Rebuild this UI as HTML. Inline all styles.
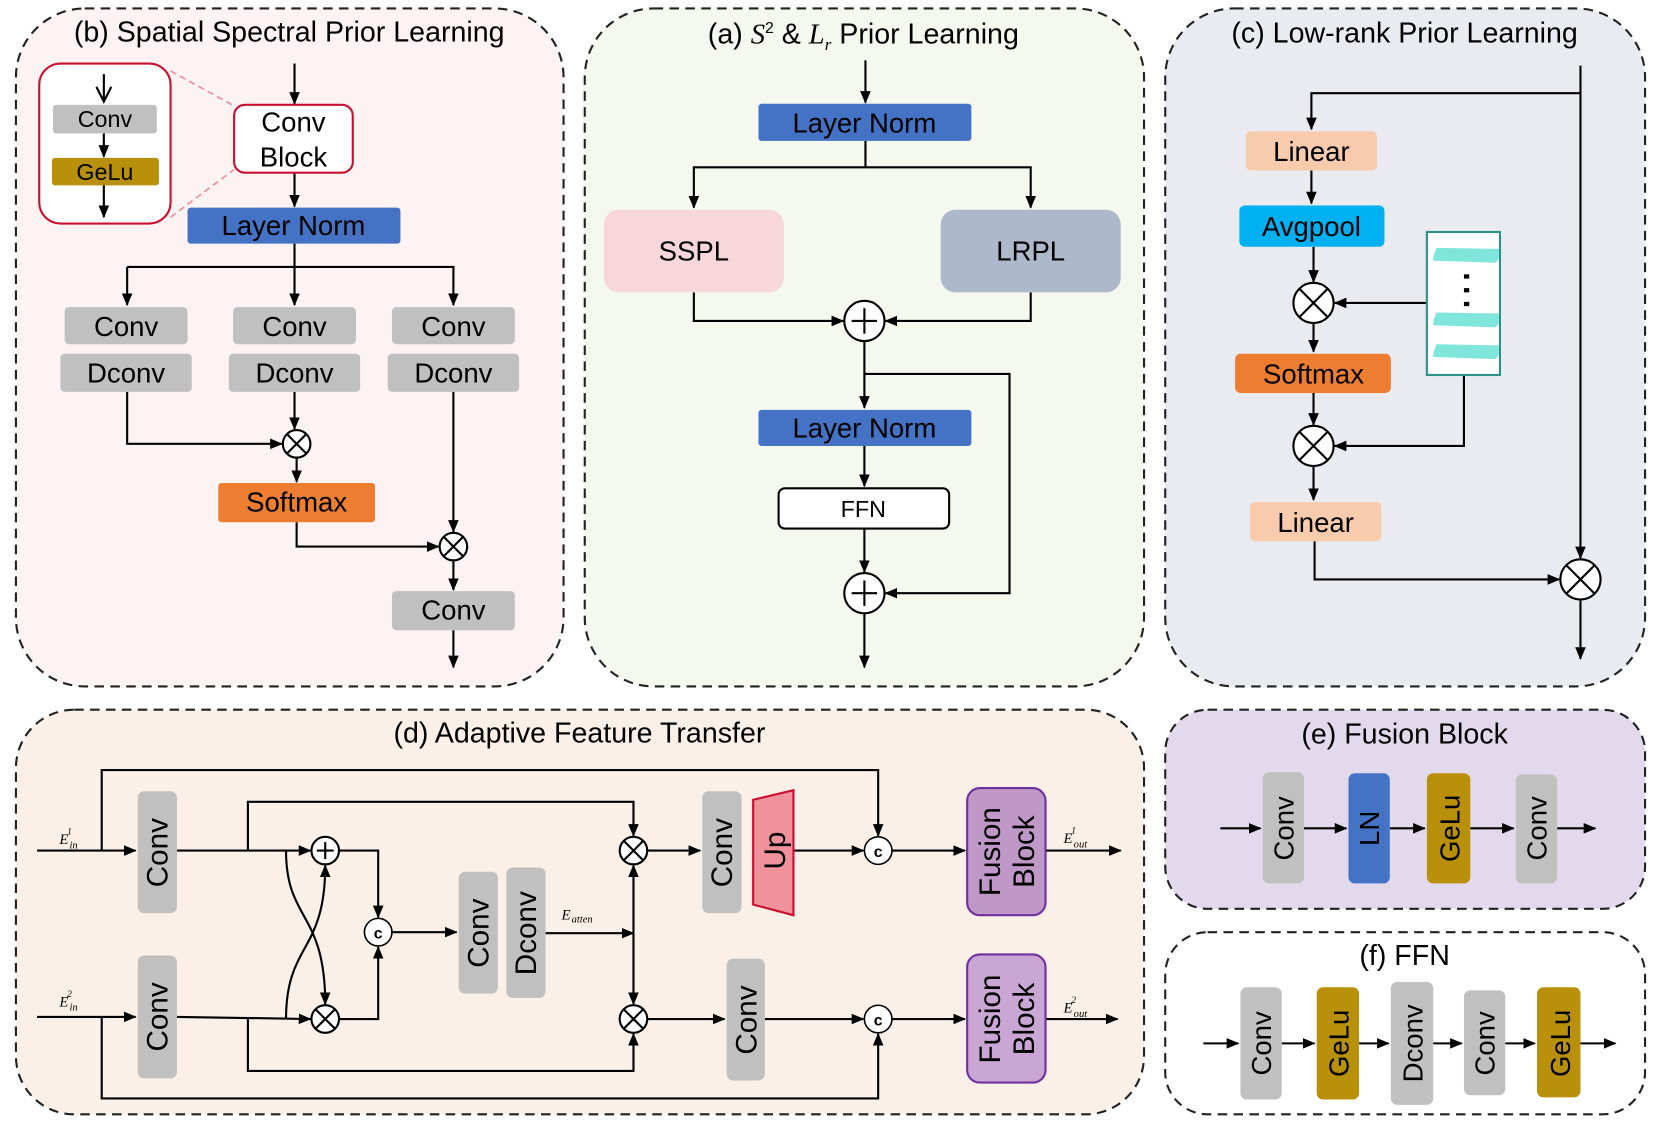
<!DOCTYPE html>
<html><head><meta charset="utf-8"><style>
html,body{margin:0;padding:0;background:#fff}
svg{display:block}
text{font-family:"Liberation Sans",sans-serif;fill:#000}
</style></head><body>
<svg width="1661" height="1126" viewBox="0 0 1568 1063" xmlns="http://www.w3.org/2000/svg">
<defs>
<marker id="a" viewBox="0 0 12 12" refX="11" refY="6" markerWidth="12" markerHeight="12" markerUnits="userSpaceOnUse" orient="auto"><path d="M0,1 L12,6 L0,11 z" fill="#000"/></marker>
</defs>
<g stroke="#222" stroke-width="2" stroke-dasharray="9,6">
<rect x="15" y="8" width="517" height="640" rx="65" fill="#fdf3f3"/>
<rect x="552" y="8" width="528" height="640" rx="65" fill="#f5f8ef"/>
<rect x="1100" y="8" width="453" height="640" rx="65" fill="#e9ebf0"/>
<rect x="15" y="670" width="1065" height="382" rx="55" fill="#fbf0e7"/>
<rect x="1100" y="670" width="453" height="188" rx="40" fill="#e3d9ec"/>
<rect x="1100" y="880" width="453" height="172" rx="40" fill="#fff"/>
</g>
<g font-size="27" text-anchor="middle">
<text x="273" y="39">(b) Spatial Spectral Prior Learning</text>
<text x="815" y="41">(a) <tspan font-family="Liberation Serif" font-style="italic">S</tspan><tspan font-size="15" dy="-10">2</tspan><tspan dy="10"> &amp; </tspan><tspan font-family="Liberation Serif" font-style="italic">L</tspan><tspan font-family="Liberation Serif" font-style="italic" font-size="16" dy="6">r</tspan><tspan dy="-6">  Prior Learning</tspan></text>
<text x="1326" y="40">(c) Low-rank Prior Learning</text>
<text x="547" y="701">(d) Adaptive Feature Transfer</text>
<text x="1326" y="702">(e) Fusion Block</text>
<text x="1326" y="911">(f) FFN</text>
</g>
<!-- b inset -->
<path d="M161,67 L221,100 M161,205 L221,160" stroke="#f08a9a" stroke-width="1.5" stroke-dasharray="6,4"/>
<rect x="37" y="60" width="124" height="151" rx="20" fill="#fff" stroke="#c8102e" stroke-width="2"/>
<rect x="50" y="99" width="98" height="27" rx="3" fill="#c0c0c0"/>
<rect x="49" y="149" width="101" height="26" rx="3" fill="#b8900a"/>
<path d="M91,82 L98,96 L105,82 M98,70 V96" stroke="#000" stroke-width="2" fill="none"/>
<g stroke="#000" stroke-width="2" fill="none" marker-end="url(#a)">
<path d="M98,126 V148"/><path d="M98,175 V205"/>
<!-- b -->
<path d="M278,60 V98"/><path d="M278,163 V195"/>
<path d="M278,230 V288"/><path d="M120,252 H428 V288"/><path d="M120,252 V288"/>
<path d="M120,370 V419 H266"/><path d="M278,370 V405"/>
<path d="M280,432 V455"/><path d="M280,493 V516 H414"/><path d="M428,370 V502"/>
<path d="M428,529 V557"/><path d="M428,595 V630"/>
<!-- a -->
<path d="M817,57 V97"/><path d="M817,133 V158 H655 V196"/><path d="M817,158 H973 V196"/>
<path d="M655,276 V303 H796"/><path d="M973,276 V303 H836"/>
<path d="M816,322 V385"/><path d="M816,353 H953 V560 H836"/>
<path d="M816,421 V459"/><path d="M816,499 V540"/><path d="M816,579 V630"/>
<!-- c -->
<path d="M1492,62 V527"/><path d="M1492,88 H1238 V122"/>
<path d="M1238,161 V192"/><path d="M1240,233 V266"/><path d="M1240,305 V332"/>
<path d="M1240,371 V401"/><path d="M1240,440 V472"/><path d="M1241,511 V547 H1472"/>
<path d="M1347,286 H1260"/><path d="M1382,354 V421 H1260"/><path d="M1492,566 V622"/>
<!-- d -->
<path d="M35,803 H128"/><path d="M96,803 V727 H829 V789"/>
<path d="M167,803 H293"/><path d="M234,803 V757 H598 V789"/>
<path d="M320,803 H357 V866"/>
<path d="M35,960 H128"/><path d="M96,960 V1037 H829 V976"/>
<path d="M167,960 L293,962"/><path d="M234,962 V1011 H598 V976"/>
<path d="M320,962 H357 V894"/>
<path d="M270,803 C270,870 307,860 307,948"/>
<path d="M270,962 C270,890 307,900 307,817"/>
<path d="M370,880 H431"/>
<path d="M515,881 H598"/><path d="M598,881 V817"/><path d="M598,881 V948"/>
<path d="M611,803 H661"/><path d="M749,803 H815"/><path d="M842,803 H911"/><path d="M987,803 H1058"/>
<path d="M611,962 H684"/><path d="M722,962 H815"/><path d="M842,962 H911"/><path d="M987,962 H1055"/>
<!-- e -->
<path d="M1152,782 H1190"/><path d="M1231,782 H1271"/><path d="M1312,782 H1345"/><path d="M1388,782 H1429"/><path d="M1470,782 H1506"/>
<!-- f -->
<path d="M1136,985 H1169"/><path d="M1210,985 H1241"/><path d="M1283,985 H1311"/><path d="M1353,985 H1380"/><path d="M1421,985 H1449"/><path d="M1492,985 H1525"/>
</g>
<rect x="221" y="99" width="112" height="64" rx="10" fill="#fff" stroke="#c8102e" stroke-width="2"/>
<rect x="177" y="196" width="201" height="34" rx="3" fill="#4472c4"/>
<g fill="#c0c0c0">
<rect x="61" y="290" width="116" height="35" rx="4"/><rect x="220" y="290" width="116" height="35" rx="4"/><rect x="370" y="290" width="116" height="35" rx="4"/>
<rect x="57" y="334" width="124" height="36" rx="4"/><rect x="216" y="334" width="124" height="36" rx="4"/><rect x="366" y="334" width="124" height="36" rx="4"/>
<rect x="370" y="558" width="116" height="37" rx="4"/>
</g>
<rect x="206" y="456" width="148" height="37" rx="3" fill="#ed7d31"/>
<!-- a boxes -->
<rect x="716" y="98" width="201" height="35" rx="3" fill="#4472c4"/>
<rect x="570" y="198" width="170" height="78" rx="14" fill="#f8d7dc"/>
<rect x="888" y="198" width="170" height="78" rx="14" fill="#adb9ca"/>
<rect x="716" y="387" width="201" height="34" rx="3" fill="#4472c4"/>
<rect x="735" y="461" width="161" height="38" rx="6" fill="#fff" stroke="#000" stroke-width="2"/>
<!-- c boxes -->
<rect x="1176" y="124" width="124" height="37" rx="5" fill="#f8cbad"/>
<rect x="1170" y="194" width="137" height="39" rx="5" fill="#00b0f0"/>
<rect x="1166" y="334" width="147" height="37" rx="5" fill="#ed7d31"/>
<rect x="1180" y="474" width="124" height="37" rx="5" fill="#f8cbad"/>
<rect x="1347" y="219" width="69" height="135" fill="#fff" stroke="#2a9288" stroke-width="2"/>
<g fill="#80e6dc"><path d="M1353,243 L1356,234 L1415,235 L1415,244 L1412,248 L1353,246 z"/><path d="M1353,304 L1356,295 L1415,296 L1415,305 L1412,309 L1353,307 z"/><path d="M1353,334 L1356,325 L1415,326 L1415,335 L1412,339 L1353,337 z"/></g>
<g fill="#000"><rect x="1382" y="259" width="5" height="4"/><rect x="1382" y="272" width="5" height="4"/><rect x="1382" y="285" width="5" height="4"/></g>
<!-- d boxes -->
<g fill="#c0c0c0">
<rect x="130" y="747" width="37" height="115" rx="6"/><rect x="130" y="902" width="37" height="116" rx="6"/>
<rect x="433" y="823" width="37" height="115" rx="6"/><rect x="478" y="819" width="37" height="123" rx="6"/>
<rect x="663" y="747" width="37" height="115" rx="6"/><rect x="686" y="905" width="36" height="115" rx="6"/>
</g>
<polygon points="711,755 749,746 749,864 711,854" fill="#f0929c" stroke="#c8102e" stroke-width="2"/>
<rect x="913" y="744" width="74" height="120" rx="12" fill="#bf98c8" stroke="#7030a0" stroke-width="2"/>
<rect x="913" y="901" width="74" height="121" rx="12" fill="#c9a6d3" stroke="#7030a0" stroke-width="2"/>
<!-- e/f boxes -->
<rect x="1192" y="729" width="39" height="105" rx="6" fill="#c0c0c0"/>
<rect x="1273" y="730" width="39" height="104" rx="6" fill="#4472c4"/>
<rect x="1347" y="730" width="41" height="104" rx="6" fill="#b8900a"/>
<rect x="1431" y="731" width="39" height="103" rx="6" fill="#c0c0c0"/>
<rect x="1171" y="932" width="39" height="106" rx="6" fill="#c0c0c0"/>
<rect x="1243" y="932" width="40" height="106" rx="6" fill="#b8900a"/>
<rect x="1313" y="927" width="40" height="116" rx="6" fill="#c0c0c0"/>
<rect x="1382" y="935" width="39" height="99" rx="6" fill="#c0c0c0"/>
<rect x="1451" y="932" width="41" height="104" rx="6" fill="#b8900a"/>
<!-- circles -->
<g fill="#fff" stroke="#000" stroke-width="2">
<circle cx="280" cy="419" r="13"/><circle cx="428" cy="516" r="13"/>
<circle cx="816" cy="303" r="19"/><circle cx="816" cy="560" r="19"/>
<circle cx="1240" cy="286" r="19"/><circle cx="1240" cy="421" r="19"/><circle cx="1492" cy="547" r="19"/>
<circle cx="307" cy="803" r="13"/><circle cx="307" cy="962" r="13"/>
<circle cx="598" cy="803" r="13"/><circle cx="598" cy="962" r="13"/>
<circle cx="357" cy="880" r="13" stroke-width="1.5"/><circle cx="829" cy="803" r="13" stroke-width="1.5"/><circle cx="829" cy="962" r="13" stroke-width="1.5"/>
</g>
<g stroke="#000" stroke-width="2">
<path d="M271,410 L289,428 M289,410 L271,428"/><path d="M419,507 L437,525 M437,507 L419,525"/>
<path d="M816,291 V315 M804,303 H828"/><path d="M816,548 V572 M804,560 H828"/>
<path d="M1227,273 L1253,299 M1253,273 L1227,299"/><path d="M1227,408 L1253,434 M1253,408 L1227,434"/><path d="M1479,534 L1505,560 M1505,534 L1479,560"/>
<path d="M307,795 V811 M299,803 H315"/><path d="M298,953 L316,971 M316,953 L298,971"/>
<path d="M589,794 L607,812 M607,794 L589,812"/><path d="M589,953 L607,971 M607,953 L589,971"/>
</g>
<g font-size="15" font-weight="bold" text-anchor="middle"><text x="357" y="886">c</text><text x="829" y="809">c</text><text x="829" y="968">c</text></g>
<!-- labels -->
<g font-size="22" text-anchor="middle">
<text x="99" y="120">Conv</text><text x="99" y="170">GeLu</text>
</g>
<g font-size="26" text-anchor="middle">
<text x="277" y="124">Conv</text><text x="277" y="157">Block</text>
<text x="277" y="222">Layer Norm</text>
<text x="119" y="317">Conv</text><text x="278" y="317">Conv</text><text x="428" y="317">Conv</text>
<text x="119" y="361">Dconv</text><text x="278" y="361">Dconv</text><text x="428" y="361">Dconv</text>
<text x="280" y="483">Softmax</text><text x="428" y="585">Conv</text>
<text x="816" y="125">Layer Norm</text><text x="655" y="246">SSPL</text><text x="973" y="246">LRPL</text>
<text x="816" y="413">Layer Norm</text>
<text x="1238" y="152">Linear</text><text x="1238" y="223">Avgpool</text><text x="1240" y="362">Softmax</text><text x="1242" y="502">Linear</text>
</g>
<text x="815" y="488" font-size="22" text-anchor="middle">FFN</text>
<g font-size="28" text-anchor="middle">
<text transform="translate(158,805) rotate(-90)">Conv</text>
<text transform="translate(158,960) rotate(-90)">Conv</text>
<text transform="translate(461,881) rotate(-90)">Conv</text>
<text transform="translate(506,881) rotate(-90)">Dconv</text>
<text transform="translate(691,805) rotate(-90)">Conv</text>
<text transform="translate(714,963) rotate(-90)">Conv</text>
<text transform="translate(741,803) rotate(-90)">Up</text>
<text transform="translate(944,804) rotate(-90)">Fusion</text><text transform="translate(976,804) rotate(-90)">Block</text>
<text transform="translate(944,962) rotate(-90)">Fusion</text><text transform="translate(976,962) rotate(-90)">Block</text>
</g>
<g font-size="26" text-anchor="middle">
<text transform="translate(1221,782) rotate(-90)">Conv</text>
<text transform="translate(1302,782) rotate(-90)">LN</text>
<text transform="translate(1378,782) rotate(-90)">GeLu</text>
<text transform="translate(1460,782) rotate(-90)">Conv</text>
<text transform="translate(1200,985) rotate(-90)">Conv</text>
<text transform="translate(1273,985) rotate(-90)">GeLu</text>
<text transform="translate(1343,985) rotate(-90)">Dconv</text>
<text transform="translate(1411,985) rotate(-90)">Conv</text>
<text transform="translate(1482,985) rotate(-90)">GeLu</text>
</g>
<g font-family="Liberation Serif" font-style="italic" font-size="14">
<text x="56" y="797" style="font-family:'Liberation Serif',serif">E<tspan font-size="10" dx="1" dy="4">in</tspan><tspan font-size="9" dx="-10" dy="-13">1</tspan></text>
<text x="56" y="950" style="font-family:'Liberation Serif',serif">E<tspan font-size="10" dx="1" dy="4">in</tspan><tspan font-size="9" dx="-10" dy="-13">2</tspan></text>
<text x="1004" y="796" style="font-family:'Liberation Serif',serif">E<tspan font-size="10" dx="1" dy="4">out</tspan><tspan font-size="9" dx="-15" dy="-13">1</tspan></text>
<text x="1004" y="956" style="font-family:'Liberation Serif',serif">E<tspan font-size="10" dx="1" dy="4">out</tspan><tspan font-size="9" dx="-15" dy="-13">2</tspan></text>
<text x="530" y="868" style="font-family:'Liberation Serif',serif">E<tspan font-size="10" dx="1" dy="3">atten</tspan></text>
</g>
</svg>
</body></html>
